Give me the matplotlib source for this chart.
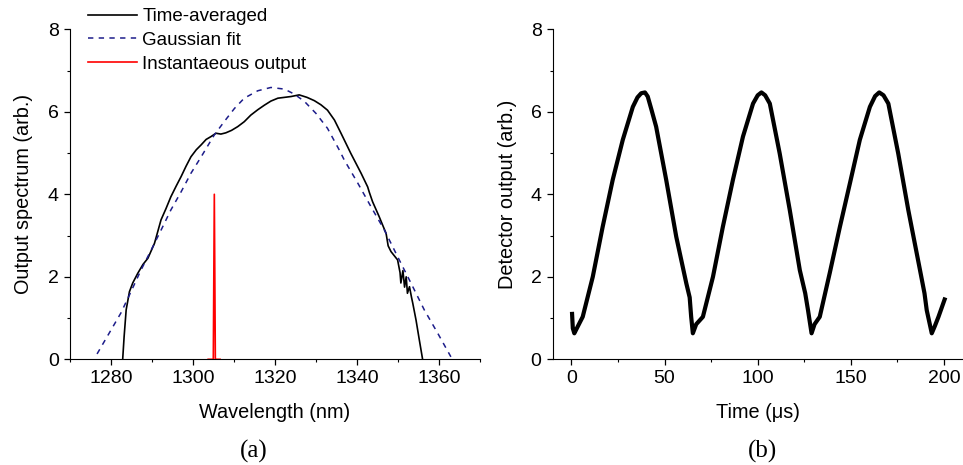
import matplotlib
matplotlib.use('Agg')
import matplotlib.pyplot as plt
from matplotlib.ticker import MultipleLocator
import numpy as np

plt.rcParams['font.family'] = ['Liberation Sans', 'DejaVu Sans']

# (a) time-averaged spectrum
wl_avg = [1282.85, 1283.2, 1283.7, 1284.5, 1285.3, 1286.5, 1287.8, 1289.0, 1290.6,
          1292.2, 1293.4, 1294.6, 1295.9, 1297.1, 1298.3, 1299.5, 1300.8, 1302.0,
          1303.2, 1304.4, 1305.6, 1306.8, 1308.0, 1309.4, 1310.9, 1312.5, 1314.1,
          1315.8, 1317.4, 1319.0, 1320.7, 1322.3, 1323.9, 1325.9, 1327.8, 1329.6,
          1331.2, 1332.8, 1334.5, 1336.1, 1338.5, 1341.0, 1342.6, 1343.0, 1343.8,
          1345.4, 1347.1, 1347.6, 1348.3, 1349.9, 1350.5, 1350.7, 1351.2, 1351.6,
          1352.0, 1352.3, 1352.8, 1353.3, 1353.6, 1354.4, 1355.2, 1356.0]
sp_avg = [0.0, 0.55, 1.2, 1.64, 1.85, 2.08, 2.3, 2.45, 2.81,
          3.38, 3.65, 3.94, 4.2, 4.43, 4.68, 4.91, 5.08, 5.2,
          5.33, 5.40, 5.48, 5.46, 5.49, 5.55, 5.64, 5.76, 5.92,
          6.05, 6.16, 6.26, 6.33, 6.35, 6.37, 6.41, 6.35, 6.27,
          6.17, 6.04, 5.8, 5.48, 4.99, 4.51, 4.18, 4.05, 3.82,
          3.46, 3.05, 2.75, 2.61, 2.41, 2.1, 1.85, 2.15, 1.75,
          2.0, 1.6, 1.76, 1.5, 1.36, 0.95, 0.47, 0.0]

# gaussian fit curve
wl_fit = [1276.6, 1280.0, 1282.4, 1284.5, 1287.3, 1289.8, 1292.2, 1294.6, 1297.1,
          1299.5, 1302.0, 1305.2, 1307.6, 1310.1, 1312.5, 1315.8, 1319.0, 1322.3,
          1324.7, 1327.2, 1330.0, 1332.8, 1335.7, 1336.9, 1340.2, 1343.4, 1346.7,
          1349.9, 1353.2, 1356.4, 1359.7, 1362.9]
sp_fit = [0.13, 0.71, 1.12, 1.56, 2.16, 2.65, 3.13, 3.62, 4.06,
          4.51, 4.91, 5.44, 5.76, 6.08, 6.33, 6.51, 6.59, 6.55,
          6.43, 6.25, 5.96, 5.6, 5.07, 4.83, 4.27, 3.7, 3.13,
          2.49, 1.84, 1.2, 0.63, 0.06]

# instantaneous output (narrow line)
wl_inst = [1303.7, 1304.95, 1305.2, 1305.45, 1306.6]
sp_inst = [0.0, 0.0, 4.0, 0.0, 0.0]

# (b) detector output vs time
t_det = [0.4, 0.8, 1.6, 3.5, 6.1, 11.5, 16.8, 22.2, 27.6, 33.0, 35.5, 37.5, 39.5,
         41.0, 43.0, 45.5, 50.9, 56.3, 61.7, 63.5, 64.3, 65.2, 67.0, 70.6, 76.0,
         81.3, 86.7, 92.1, 97.5, 100.0, 102.0, 104.0, 106.5, 111.8, 117.2, 122.6,
         125.5, 127.0, 128.9, 130.5, 133.3, 138.7, 144.1, 149.5, 154.8, 160.2,
         163.0, 165.2, 167.5, 170.1, 175.4, 180.8, 187.1, 189.5, 190.7, 193.4,
         195.0, 197.0, 200.3]
v_det = [1.1, 0.75, 0.63, 0.8, 1.03, 2.0, 3.21, 4.35, 5.32, 6.12, 6.35, 6.45, 6.47,
         6.37, 6.05, 5.64, 4.35, 2.97, 1.84, 1.5, 1.03, 0.63, 0.85, 1.03, 2.0,
         3.21, 4.35, 5.4, 6.2, 6.4, 6.47, 6.4, 6.2, 4.99, 3.62, 2.16,
         1.6, 1.19, 0.63, 0.85, 1.03, 2.1, 3.21, 4.27, 5.32, 6.12,
         6.38, 6.47, 6.4, 6.2, 4.99, 3.62, 2.16, 1.6, 1.19, 0.63,
         0.8, 1.03, 1.45]

fig = plt.figure(figsize=(9.63, 4.65), dpi=100)
W, H = 963.0, 465.0
ax1 = fig.add_axes([70 / W, 1 - 359.3 / H, 410 / W, 330 / H])
ax2 = fig.add_axes([552.7 / W, 1 - 359.3 / H, 410 / W, 330 / H])

l1, = ax1.plot(wl_avg, sp_avg, color='black', lw=1.2, label='Time-averaged')
l2, = ax1.plot(wl_fit, sp_fit, color='#1c1c8a', lw=1.1, ls=(0, (3.5, 3.5)), label='Gaussian fit')
l3, = ax1.plot(wl_inst, sp_inst, color='red', lw=1.2, label='Instantaeous output')
ax1.set_xlim(1270, 1370)
ax1.set_xticks([1280, 1300, 1320, 1340, 1360])
ax1.xaxis.set_minor_locator(MultipleLocator(10))
ax1.set_xlabel('Wavelength (nm)', fontsize=14.3, labelpad=11)
ax1.set_ylabel('Output spectrum (arb.)', fontsize=14.3, labelpad=10.5)

ax2.plot(t_det, v_det, color='black', lw=3.0, solid_joinstyle='round')
ax2.set_xlim(-10, 210)
ax2.set_xticks([0, 50, 100, 150, 200])
ax2.xaxis.set_minor_locator(MultipleLocator(25))
ax2.set_xlabel('Time (μs)', fontsize=14.3, labelpad=11)
ax2.set_ylabel('Detector output (arb.)', fontsize=14.3, labelpad=9.5)

for ax in (ax1, ax2):
    ax.set_ylim(0, 8)
    ax.set_yticks([0, 2, 4, 6, 8])
    ax.yaxis.set_minor_locator(MultipleLocator(1))
    ax.spines['top'].set_visible(False)
    ax.spines['right'].set_visible(False)
    ax.tick_params(which='major', direction='out', length=4, width=0.9, labelsize=14, pad=4)
    ax.tick_params(which='minor', direction='out', length=2.5, width=0.8)
    ax.patch.set_alpha(0)

fig.legend(handles=[l1, l2, l3], loc='upper left', bbox_to_anchor=(88 / W, 1 - 8 / H),
           frameon=False, fontsize=13.5, handlelength=2.6, handletextpad=0.3,
           labelspacing=0.36, borderaxespad=0, borderpad=0)

fig.text(254 / W, 1 - 451 / H, '(a)', family='Liberation Serif', fontsize=18, ha='center', va='center')
fig.text(762.7 / W, 1 - 451 / H, '(b)', family='Liberation Serif', fontsize=18, ha='center', va='center')

fig.savefig('out.png', dpi=100)
